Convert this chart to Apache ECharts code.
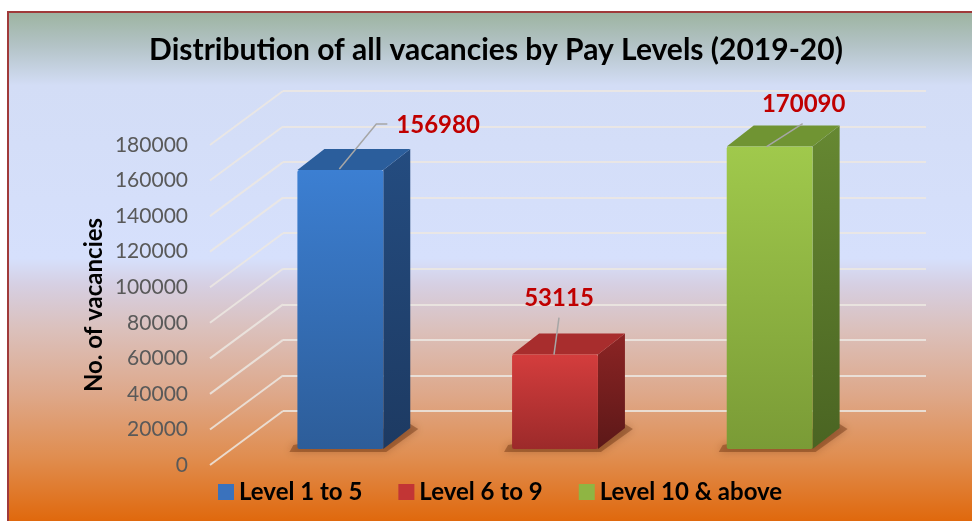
<!DOCTYPE html>
<html>
<head>
<meta charset="utf-8">
<script src="https://cdn.jsdelivr.net/npm/echarts@6/dist/echarts.min.js"></script>
<style>
  html, body { margin: 0; padding: 0; background: #fff; }
  #chart { width: 972px; height: 521px; }
</style>
</head>
<body>
<div id="chart"></div>
<script>
// data
const categories = ['Level 1 to 5', 'Level 6 to 9', 'Level 10 & above'];
const vacancies = [156980, 53115, 170090];
const yTicks = [0, 20000, 40000, 60000, 80000, 100000, 120000, 140000, 160000, 180000];

const FONT = 'Lato';
// 3D look: depth of the bars and of the back wall
const BAR_DX = 27, BAR_DY = -21;
const WALL_DY = -54;

// colours per bar: front (top, bottom), side (top, bottom), roof
const barColors = [
  { front: ['#3c7fd2', '#2d5d99'], side: ['#244c80', '#1d3a62'], roof: '#2b5e9c', legend: '#3a72bd' },
  { front: ['#d43d3d', '#9c2a2a'], side: ['#8c2424', '#5c1818'], roof: '#a82d2d', legend: '#c23535' },
  { front: ['#a0c94c', '#7a9b36'], side: ['#668832', '#4a6422'], roof: '#709433', legend: '#8fb543' }
];
// where each value label sits, relative to the top front centre of its bar
const labelSpots = [
  { leader: [[-1, -1], [36, -46], [47, -46]], text: [56, -45], align: 'left' },
  { leader: [[-1, 0], [4, -37]], text: [4, -56], align: 'center' },
  { leader: [[-3, 0], [33, -23]], text: [34, -42], align: 'center' }
];

function grad(c) {
  return new echarts.graphic.LinearGradient(0, 0, 0, 1, [
    { offset: 0, color: c[0] }, { offset: 1, color: c[1] }
  ]);
}

function renderBar(params, api) {
  const i = api.value(0);
  const v = api.value(1);
  const top = api.coord([i, v]);
  const base = api.coord([i, 0]);
  const w = api.size([1, 0])[0] * 0.4;
  const x0 = top[0] - w / 2, x1 = top[0] + w / 2;
  const b = base[1];
  const c = barColors[i];
  const spot = labelSpots[i];
  return {
    type: 'group',
    children: [
      {
        // soft shadow on the floor
        type: 'polygon',
        shape: { points: [[x0 - 4, b - 4], [x1 + BAR_DX, b + BAR_DY - 4], [x1 + BAR_DX + 8, b + BAR_DY + 1], [x1 + 3, b + 3], [x0 - 8, b + 3]] },
        style: { fill: 'rgba(80,30,0,0.35)', shadowBlur: 8, shadowColor: 'rgba(80,30,0,0.75)' }
      },
      {
        type: 'polygon',
        shape: { points: [[x1, top[1]], [x1 + BAR_DX, top[1] + BAR_DY], [x1 + BAR_DX, b + BAR_DY], [x1, b]] },
        style: { fill: grad(c.side) }
      },
      {
        type: 'polygon',
        shape: { points: [[x0, top[1]], [x0 + BAR_DX, top[1] + BAR_DY], [x1 + BAR_DX, top[1] + BAR_DY], [x1, top[1]]] },
        style: { fill: c.roof }
      },
      {
        type: 'rect',
        shape: { x: x0, y: top[1], width: w, height: b - top[1], r: 2 },
        style: { fill: grad(c.front) }
      },
      {
        type: 'polyline',
        shape: { points: spot.leader.map(p => [top[0] + p[0], top[1] + p[1]]) },
        style: { stroke: '#a6a6a6', lineWidth: 1.5, fill: null }
      },
      {
        type: 'text',
        x: top[0] + spot.text[0],
        y: top[1] + spot.text[1],
        style: {
          text: String(v),
          fill: '#c00000',
          font: 'bold 24px ' + FONT,
          align: spot.align,
          verticalAlign: 'middle'
        }
      }
    ]
  };
}

// diagonal lines from the tick labels to the back wall
function renderDiagonal(params, api) {
  const v = api.value(1);
  const p0 = api.coord([0, v]);
  const p1 = api.coord([1, v]);
  return {
    type: 'line',
    shape: { x1: p0[0], y1: p0[1], x2: p1[0], y2: p1[1] + WALL_DY },
    style: { stroke: 'rgba(236,232,226,0.85)', lineWidth: 2 }
  };
}

const barSeries = categories.map((name, i) => ({
  name: name,
  type: 'custom',
  xAxisIndex: 0,
  yAxisIndex: 0,
  renderItem: renderBar,
  itemStyle: { color: barColors[i].legend },
  encode: { x: 0, y: 1 },
  data: [[i, vacancies[i]]],
  z: 5
}));

const yMin = yTicks[0], yMax = yTicks[yTicks.length - 1], yStep = yTicks[1] - yTicks[0];

const option = {
  backgroundColor: '#ffffff',
  animation: false,
  graphic: [{
    type: 'rect',
    z: -10,
    silent: true,
    shape: { x: 8, y: 12, width: 990, height: 530 },
    style: {
      stroke: '#a03a3a',
      lineWidth: 2,
      fill: new echarts.graphic.LinearGradient(0, 0, 0, 1, [
        { offset: 0, color: '#9cb39f' },
        { offset: 0.065, color: '#b3c3c6' },
        { offset: 0.14, color: '#d3ddf6' },
        { offset: 0.465, color: '#d6e0fc' },
        { offset: 0.515, color: '#d6cfe2' },
        { offset: 0.6, color: '#dbc0bb' },
        { offset: 0.72, color: '#dea88a' },
        { offset: 0.84, color: '#e08d4f' },
        { offset: 0.96, color: '#e0680c' }
      ])
    }
  }],
  title: {
    text: 'Distribution of all vacancies by Pay Levels (2019-20)',
    left: 491,
    top: 30,
    textAlign: 'center',
    textStyle: { fontFamily: FONT, fontSize: 30, fontWeight: 'bold', color: '#000' }
  },
  legend: {
    left: 213,
    top: 475,
    icon: 'rect',
    itemWidth: 16,
    itemHeight: 16,
    itemGap: 36,
    data: categories,
    textStyle: { fontFamily: FONT, fontSize: 24, fontWeight: 'bold', color: '#000' }
  },
  grid: [
    { left: 233, right: 95, top: 129, bottom: 72 },   // bars (front plane)
    { left: 210, right: 689, top: 145, bottom: 56 },  // tick labels and diagonals
    { left: 283, right: 46, top: 91, bottom: 110 }    // back wall
  ],
  xAxis: [
    { gridIndex: 0, type: 'category', data: categories, show: false },
    { gridIndex: 1, type: 'value', min: 0, max: 1, show: false },
    { gridIndex: 2, type: 'value', min: 0, max: 1, show: false }
  ],
  yAxis: [
    { gridIndex: 0, type: 'value', min: yMin, max: yMax, interval: yStep, show: false },
    {
      gridIndex: 1, type: 'value', min: yMin, max: yMax, interval: yStep,
      axisLine: { show: false },
      axisTick: { show: false },
      splitLine: { show: false },
      axisLabel: { margin: 22, color: '#595959', fontSize: 21, fontFamily: FONT, formatter: v => String(v) },
      name: 'No. of vacancies',
      nameLocation: 'middle',
      nameRotate: 90,
      nameGap: 104,
      nameTextStyle: { fontFamily: FONT, fontSize: 24, fontWeight: 'bold', color: '#000' }
    },
    {
      gridIndex: 2, type: 'value', min: yMin, max: yMax, interval: yStep,
      axisLine: { show: false },
      axisTick: { show: false },
      axisLabel: { show: false },
      splitLine: { show: true, lineStyle: { color: 'rgba(236,232,226,0.85)', width: 2 } }
    }
  ],
  series: [
    {
      type: 'custom',
      xAxisIndex: 1,
      yAxisIndex: 1,
      renderItem: renderDiagonal,
      encode: { x: 0, y: 1 },
      data: yTicks.map(v => [0, v]),
      silent: true,
      z: 1
    }
  ].concat(barSeries)
};

const chart = echarts.init(document.getElementById('chart'));
chart.setOption(option);
</script>
</body>
</html>
